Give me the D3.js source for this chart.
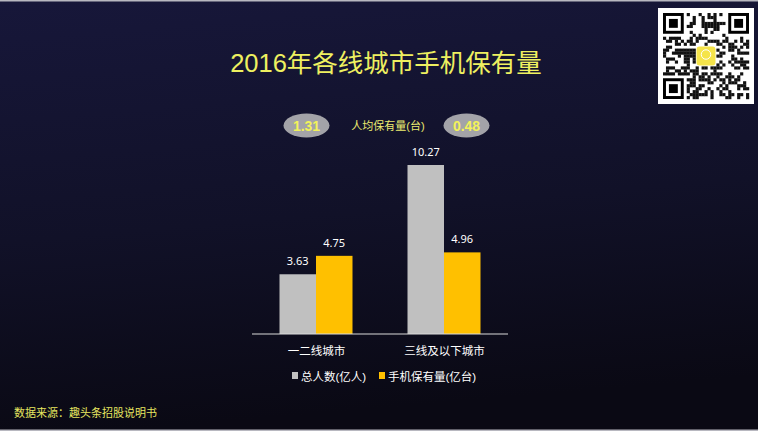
<!DOCTYPE html>
<html><head><meta charset="utf-8">
<script src="https://cdnjs.cloudflare.com/ajax/libs/d3/7.8.5/d3.min.js"></script>
<style>html,body{margin:0;padding:0;background:#0d0c20;}svg{display:block;}</style>
</head><body><svg id="c" width="758" height="431"></svg>
<script>
const categories = ["一二线城市", "三线及以下城市"];
const seriesNames = ["总人数(亿人)", "手机保有量(亿台)"];
const population = [3.63, 10.27];
const phones = [4.75, 4.96];
const perCapita = [1.31, 0.48];
const perCapitaLabel = "人均保有量(台)";
const title = "2016年各线城市手机保有量";
const source = "数据来源：趣头条招股说明书";
const colors = ["#c0c0c0", "#ffc000"];

const svg = d3.select("#c");
const W = 758, H = 431;
const defs = svg.append("defs");
const grad = defs.append("linearGradient").attr("id","bg").attr("x1",0).attr("y1",0).attr("x2",0.15).attr("y2",1);
grad.append("stop").attr("offset","0%").attr("stop-color","#17173a");
grad.append("stop").attr("offset","55%").attr("stop-color","#111128");
grad.append("stop").attr("offset","100%").attr("stop-color","#0a0914");
svg.append("rect").attr("width",W).attr("height",H).attr("fill","url(#bg)");
svg.append("rect").attr("x",0).attr("y",0).attr("width",W).attr("height",1.5).attr("fill","#b8b8c0");
svg.append("rect").attr("x",0).attr("y",429.5).attr("width",W).attr("height",1.5).attr("fill","#b8b8c0");

const FONT = "'Liberation Sans','Noto Sans CJK SC',sans-serif";

// title
svg.append("text").attr("x",386).attr("y",72).attr("text-anchor","middle")
  .attr("font-family",FONT).attr("font-size",25.5).attr("fill","#eef060").text(title);

// chart
const groupCenter = d3.scalePoint().domain(categories).range([316,444]);
const x1 = d3.scaleBand().domain([0,1]).range([-36.5,36.5]);
const y = d3.scaleLinear().domain([0,10.27]).range([334,165]);

const data = categories.map((c,i)=>({c, vals:[population[i], phones[i]]}));
const g = svg.append("g");
data.forEach(d=>{
  d.vals.forEach((v,j)=>{
    const bx = groupCenter(d.c) + x1(j);
    g.append("rect").attr("x",bx).attr("y",y(v)).attr("width",x1.bandwidth()).attr("height",y(0)-y(v)).attr("fill",colors[j]);
    g.append("text").attr("x",bx + x1.bandwidth()/2).attr("y",y(v)-9).attr("text-anchor","middle")
      .attr("font-family","'Noto Sans',sans-serif").attr("font-size",11).attr("fill","#ffffff").text(v.toFixed(2));
  });
});
// axis
const axis = d3.axisBottom(groupCenter).tickSize(0).tickPadding(13);
const ag = svg.append("g").attr("transform","translate(0,334)").call(axis);
ag.select(".domain").remove();
svg.append("line").attr("x1",252).attr("x2",508).attr("y1",334).attr("y2",334).attr("stroke","#d9d9d9").attr("stroke-width",1.2);
ag.selectAll("text").attr("font-family",FONT).attr("font-size",11.5).attr("fill","#ffffff");

// legend
const legX = [292, 379];
seriesNames.forEach((n,j)=>{
  svg.append("rect").attr("x",legX[j]).attr("y",372).attr("width",6).attr("height",7).attr("fill",colors[j]);
  svg.append("text").attr("x",legX[j]+9).attr("y",380.5).attr("font-family",FONT).attr("font-size",11.5).attr("fill","#ffffff").text(n);
});

// per-capita ellipses
const ellX = groupCenter.copy().range([306.5,466.5]);
categories.forEach((c,i)=>{
  svg.append("ellipse").attr("cx",ellX(c)).attr("cy",125.5).attr("rx",23).attr("ry",12).attr("fill","#a3a3a8");
  svg.append("text").attr("x",ellX(c)).attr("y",130.5).attr("text-anchor","middle").attr("font-family",FONT)
    .attr("font-weight","bold").attr("font-size",14).attr("fill","#f2f25a").text(perCapita[i].toFixed(2));
});
svg.append("text").attr("x",388).attr("y",129.5).attr("text-anchor","middle").attr("font-family",FONT)
  .attr("font-size",11).attr("fill","#ecec70").text(perCapitaLabel);

// source
svg.append("text").attr("x",14).attr("y",417).attr("font-family",FONT).attr("font-size",11).attr("fill","#e6e660").text(source);

// QR-like decoration
const qx=660, qy=10, qs=92, N=29, cs=(qs-6)/N;
svg.append("rect").attr("x",qx-2).attr("y",qy-2).attr("width",qs+4).attr("height",qs+4).attr("fill","#ffffff");
const qg = svg.append("g").attr("transform",`translate(${qx+3},${qy+3})`);
function finder(i,j){
  qg.append("rect").attr("x",i*cs).attr("y",j*cs).attr("width",7*cs).attr("height",7*cs).attr("fill","#000");
  qg.append("rect").attr("x",(i+1)*cs).attr("y",(j+1)*cs).attr("width",5*cs).attr("height",5*cs).attr("fill","#fff");
  qg.append("rect").attr("x",(i+2)*cs).attr("y",(j+2)*cs).attr("width",3*cs).attr("height",3*cs).attr("fill","#000");
}
function inFinder(i,j){ return (i<8&&j<8)||(i>=N-8&&j<8)||(i<8&&j>=N-8); }
function hash(i,j){ const s = Math.sin(i*12.9898 + j*78.233)*43758.5453; return s - Math.floor(s); }
for(let j=0;j<N;j++) for(let i=0;i<N;i++){
  if(inFinder(i,j)) continue;
  if(i>=11&&i<=17&&j>=11&&j<=17) continue;
  if(hash(i,j)<0.5) qg.append("rect").attr("x",i*cs).attr("y",j*cs).attr("width",cs+0.2).attr("height",cs+0.2).attr("fill","#111");
}
finder(0,0); finder(N-7,0); finder(0,N-7);
qg.append("rect").attr("x",11.3*cs).attr("y",11.3*cs).attr("width",6.4*cs).attr("height",6.4*cs).attr("rx",3).attr("fill","#f5e44a");
qg.append("circle").attr("cx",14.5*cs).attr("cy",14*cs).attr("r",1.6*cs).attr("fill","none").attr("stroke","#fff").attr("stroke-width",1);
</script></body></html>
